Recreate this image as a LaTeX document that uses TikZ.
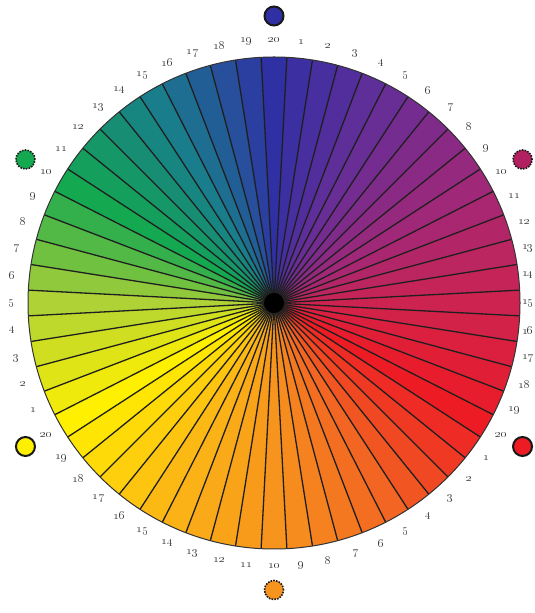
\documentclass[tikz,border=0pt]{standalone}
\usepackage{tikz}
\usetikzlibrary{calc}
\definecolor{anc0}{RGB}{48,48,165}
\definecolor{anc1}{RGB}{105,45,150}
\definecolor{anc2}{RGB}{160,40,120}
\definecolor{anc3}{RGB}{205,35,80}
\definecolor{anc4}{RGB}{237,28,36}
\definecolor{anc5}{RGB}{242,101,34}
\definecolor{anc6}{RGB}{247,148,29}
\definecolor{anc7}{RGB}{252,185,20}
\definecolor{anc8}{RGB}{255,240,0}
\definecolor{anc9}{RGB}{175,210,55}
\definecolor{anc10}{RGB}{20,168,80}
\definecolor{anc11}{RGB}{25,125,140}
\definecolor{anc12}{RGB}{48,48,165}
\definecolor{numgray}{RGB}{60,60,60}
\tikzset{
  numlabel/.style={text=numgray, font=\fontsize{12.5}{12.5}\selectfont\bfseries, inner sep=0pt},
  spoke/.style={draw=black!88, line width=1.3pt},
  rim/.style={draw=black!80, line width=1pt},
  dotsolid/.style={circle, minimum size=19pt, inner sep=0pt, draw=black!90, line width=2pt},
  dotdash/.style={circle, minimum size=19pt, inner sep=0pt, draw=black!90, line width=1.6pt, dash pattern=on 1.6pt off 1.2pt}
}
\begin{document}
\begin{tikzpicture}[x=1pt,y=1pt]
\useasboundingbox (0,0) rectangle (535,613);
\coordinate (ctr) at (274,310);
% segments
\foreach \k in {0,...,59}{
  \pgfmathtruncatemacro{\a}{int(\k/5)}
  \pgfmathtruncatemacro{\b}{\a+1}
  \pgfmathtruncatemacro{\p}{100*mod(\k,5)/5}
  \pgfmathsetmacro{\s}{93-6*\k}
  \pgfmathsetmacro{\e}{87-6*\k}
  \fill[color=anc\b!\p!anc\a] (ctr) -- ++(\s:246) arc[start angle=\s, end angle=\e, radius=246] -- cycle;
}
% spokes
\foreach \k in {0,...,59}{
  \pgfmathsetmacro{\s}{93-6*\k}
  \draw[spoke] (ctr) -- ++(\s:246);
}
\draw[rim] (ctr) circle[radius=246];
\fill[black] (ctr) circle[radius=10];
% numbers
\foreach \k in {0,...,59}{
  \pgfmathtruncatemacro{\n}{mod(\k,20)==0 ? 20 : mod(\k,20)}
  \pgfmathsetmacro{\ang}{90-6*\k}
  \pgfmathsetmacro{\lx}{274+263*cos(\ang)}
  \pgfmathsetmacro{\ly}{310+263*sin(\ang)}
  \pgfmathtruncatemacro{\edge}{\lx>526 ? 1 : 0}
  \ifnum\edge=1
    \node[numlabel, anchor=east] (lab\k) at (534,\ly) {\oldstylenums{\n}};
  \else
    \node[numlabel] (lab\k) at (\lx,\ly) {\oldstylenums{\n}};
  \fi
}
% hue dots
\node[dotsolid, fill=anc0] (dblue) at ($(ctr)+(90:287)$) {};
\node[dotdash, fill=anc2!80!red] (dpurple) at ($(ctr)+(30:287)$) {};
\node[dotsolid, fill=anc4] (dred) at ($(ctr)+(-30:287)$) {};
\node[dotdash, fill=anc6] (dorange) at ($(ctr)+(-90:287)$) {};
\node[dotsolid, fill=anc8] (dyellow) at ($(ctr)+(-150:287)$) {};
\node[dotdash, fill=anc10] (dgreen) at ($(ctr)+(150:287)$) {};
\end{tikzpicture}
\end{document}
